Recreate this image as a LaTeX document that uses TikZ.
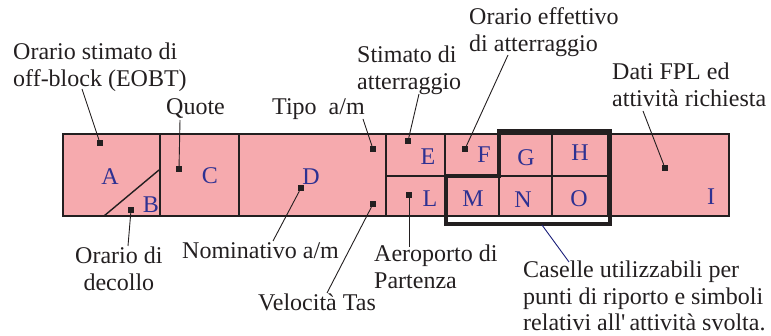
\documentclass[tikz,border=0pt]{standalone}
\usepackage{fontspec}
\setmainfont{Liberation Serif}[Ligatures=TeXOff]
\usetikzlibrary{positioning,calc}
\definecolor{fplpink}{HTML}{F6AAAE}
\definecolor{fplblue}{HTML}{2E3192}
\definecolor{fplline}{HTML}{231F20}
\definecolor{fplnavy}{HTML}{1B1F7A}
\newcommand{\fplfont}{\fontsize{24pt}{26.5pt}\selectfont}
\tikzset{
  cell/.style={draw=fplline, line width=1.4pt, fill=fplpink, inner sep=0pt, outer sep=0pt, anchor=north west},
  letter/.style={text=fplblue, font=\fplfont, inner sep=0pt},
  marker/.style={fill=fplline, minimum size=6pt, inner sep=0pt},
  lbl/.style={text=fplline, font=\fplfont, inner sep=0pt, align=left, anchor=base west},
  leader/.style={draw=fplline, line width=0.9pt}
}

\begin{document}
\begin{tikzpicture}[x=1pt, y=-1pt]
  \useasboundingbox (0,0) rectangle (771,336);

  \node[cell, minimum width=97pt, minimum height=82pt] (ab) at (63,134) {};
  \node[cell, minimum width=79pt, minimum height=82pt] (c) at (160,134) {};
  \node[cell, minimum width=147pt, minimum height=82pt] (d) at (239,134) {};
  \node[cell, minimum width=59pt, minimum height=42pt] (e) at (386,134) {};
  \node[cell, minimum width=54pt, minimum height=42pt] (f) at (445,134) {};
  \node[cell, minimum width=53pt, minimum height=42pt] (g) at (499,134) {};
  \node[cell, minimum width=56pt, minimum height=42pt] (h) at (552,134) {};
  \node[cell, minimum width=59pt, minimum height=40pt] (l) at (386,176) {};
  \node[cell, minimum width=54pt, minimum height=40pt] (m) at (445,176) {};
  \node[cell, minimum width=53pt, minimum height=40pt] (n) at (499,176) {};
  \node[cell, minimum width=56pt, minimum height=40pt] (o) at (552,176) {};
  \node[cell, minimum width=121pt, minimum height=82pt] (i) at (608,134) {};
  \draw[fplline, line width=1.4pt] (104,216) -- (159,170);

  \node[letter] (tA) at (110,177) {A};
  \node[letter] (tB) at (151,205) {B};
  \node[letter] (tC) at (210,176) {C};
  \node[letter] (tD) at (311,177) {D};
  \node[letter] (tE) at (428,157) {E};
  \node[letter] (tF) at (484,155) {F};
  \node[letter] (tG) at (526,158) {G};
  \node[letter] (tH) at (580,153) {H};
  \node[letter] (tL) at (430,199) {L};
  \node[letter] (tM) at (473,199) {M};
  \node[letter] (tN) at (523,200) {N};
  \node[letter] (tO) at (579,199) {O};
  \node[letter] (tI) at (711,197) {I};

  \node[marker] (mA) at (100,143) {};
  \node[marker] (mB) at (131,210) {};
  \node[marker] (mC) at (179,169) {};
  \node[marker] (mD) at (301,188) {};
  \node[marker] (mTipo) at (373,149) {};
  \node[marker] (mTas) at (373,204) {};
  \node[marker] (mE) at (408,141) {};
  \node[marker] (mL) at (409,195) {};
  \node[marker] (mF) at (465,149) {};
  \node[marker] (mI) at (665,168) {};

  \draw[fplline, line width=3.2pt, line join=miter]
    (499,131) -- (610,131) -- (610,224) -- (446,224) -- (446,176) -- (499,176) -- cycle;
  \coordinate (boxfoot) at (542,225);

  \node[lbl] (eobt) at (13,86.5) {Orario stimato di\\off-block (EOBT)};
  \node[lbl] (quote) at (166,115) {Quote};
  \node[lbl] (tipo) at (272,115) {Tipo\ \ a/m};
  \node[lbl] (stimato) at (357,89.5) {Stimato di\\atterraggio};
  \node[lbl] (effettivo) at (469,51.5) {Orario effettivo\\di atterraggio};
  \node[lbl] (fpl) at (612,106.5) {Dati FPL ed\\attività richiesta};
  \node[lbl, align=center] (decollo) at (75,290.5) {Orario di\\decollo};
  \node[lbl] (nominativo) at (182,259) {Nominativo a/m};
  \node[lbl] (tas) at (258,311) {Velocità Tas};
  \node[lbl] (aeroporto) at (374,288.5) {Aeroporto di\\Partenza};
  \node[lbl] (caselle) at (523,331) {Caselle utilizzabili per\\punti di riporto e simboli\\relativi all'\,attività svolta.};

  \coordinate (eobt-end) at (82,89);
  \coordinate (quote-end) at (180,120);
  \coordinate (tipo-end) at (363,119);
  \coordinate (stimato-end) at (419,94);
  \coordinate (effettivo-end) at (508,55);
  \coordinate (fpl-end) at (643,111);
  \coordinate (decollo-end) at (128,246);
  \coordinate (nominativo-end) at (273,241);
  \coordinate (tas-end) at (327,293);
  \coordinate (aeroporto-end) at (409,247);
  \coordinate (caselle-end) at (569,262);

  \draw[leader] (eobt-end) -- (mA);
  \draw[leader] (quote-end) -- (mC);
  \draw[leader] (tipo-end) -- (mTipo);
  \draw[leader] (stimato-end) -- (mE);
  \draw[leader] (effettivo-end) -- (mF);
  \draw[leader] (fpl-end) -- (mI);
  \draw[leader] (decollo-end) -- (mB);
  \draw[leader] (nominativo-end) -- (mD);
  \draw[leader] (tas-end) -- (mTas);
  \draw[leader] (aeroporto-end) -- (mL);
  \draw[leader, draw=fplnavy] (boxfoot) -- (caselle-end);
\end{tikzpicture}
\end{document}
